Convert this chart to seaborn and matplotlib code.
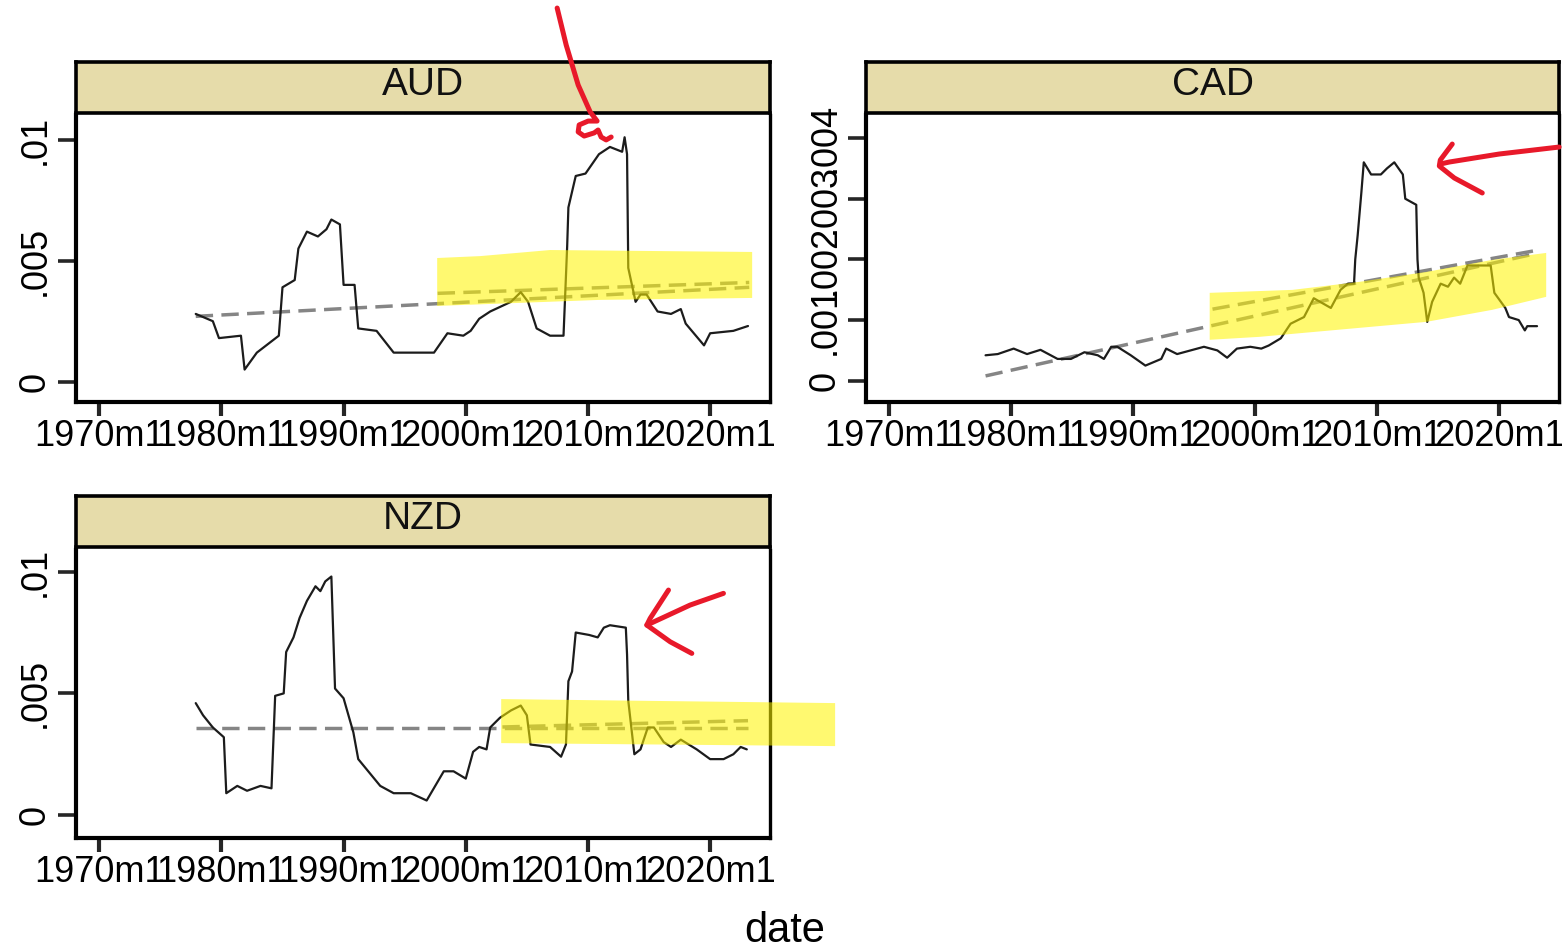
import pandas as pd
import matplotlib
matplotlib.use("Agg")
import matplotlib.pyplot as plt
import seaborn as sns

sns.set_theme(style="white")
plt.rcParams['font.family'] = ['Liberation Sans', 'DejaVu Sans']

# ---------------- data ----------------
aud_year = [1977.9, 1979.3, 1979.8, 1981.6, 1981.9, 1982.9, 1984.7, 1985.0, 1986.0, 1986.3,
            1987.0, 1987.9, 1988.6, 1989.0, 1989.7, 1990.0, 1990.9, 1991.2, 1992.7, 1994.1,
            1997.4, 1998.5, 1999.8, 2000.4, 2001.1, 2002.0, 2003.7, 2004.5, 2005.1, 2005.8,
            2006.9, 2008.0, 2008.3, 2008.4, 2009.0, 2009.8, 2010.9, 2011.8, 2012.8, 2013.0,
            2013.2, 2013.3, 2013.9, 2014.3, 2014.8, 2015.7, 2016.8, 2017.6, 2018.0, 2019.5,
            2020.0, 2021.9, 2023.1]
aud_value = [0.0028, 0.0025, 0.0018, 0.0019, 0.0005, 0.0012, 0.0019, 0.0039, 0.0042, 0.0055,
             0.0062, 0.0060, 0.0063, 0.0067, 0.0065, 0.0040, 0.0040, 0.0022, 0.0021, 0.0012,
             0.0012, 0.0020, 0.0019, 0.0021, 0.0026, 0.0029, 0.0033, 0.0037, 0.0033, 0.0022,
             0.0019, 0.0019, 0.0056, 0.0072, 0.0085, 0.0086, 0.0094, 0.0097, 0.0095, 0.0101,
             0.0094, 0.0047, 0.0033, 0.0036, 0.0036, 0.0029, 0.0028, 0.0030, 0.0024, 0.0015,
             0.0020, 0.0021, 0.0023]

cad_year = [1977.9, 1978.9, 1980.2, 1981.3, 1982.4, 1983.8, 1984.9, 1986.0, 1987.1, 1987.6,
            1988.2, 1988.7, 1989.8, 1991.0, 1992.3, 1992.7, 1993.6, 1994.7, 1995.8, 1996.9,
            1997.7, 1998.5, 1999.6, 2000.5, 2001.1, 2002.1, 2002.9, 2004.0, 2004.8, 2006.2,
            2007.0, 2007.6, 2008.1, 2008.2, 2008.4, 2008.7, 2008.9, 2009.5, 2010.3, 2010.8,
            2011.4, 2012.1, 2012.3, 2013.2, 2013.3, 2013.4, 2013.8, 2014.1, 2014.5, 2015.2,
            2015.8, 2016.3, 2016.8, 2017.4, 2018.5, 2019.3, 2019.6, 2020.5, 2020.8, 2021.6,
            2022.1, 2022.3, 2023.1]
cad_value = [0.00042, 0.00044, 0.00053, 0.00044, 0.00051, 0.00036, 0.00036, 0.00047, 0.00042, 0.00036,
             0.00056, 0.00056, 0.00042, 0.00025, 0.00036, 0.00053, 0.00044, 0.00050, 0.00056, 0.00050,
             0.00038, 0.00053, 0.00056, 0.00053, 0.00058, 0.00070, 0.00094, 0.00105, 0.00136, 0.00120,
             0.00150, 0.00160, 0.00160, 0.00200, 0.00240, 0.00310, 0.00360, 0.00340, 0.00340, 0.00350,
             0.00360, 0.00340, 0.00300, 0.00290, 0.00200, 0.00170, 0.00145, 0.00097, 0.00130, 0.00160,
             0.00155, 0.00170, 0.00160, 0.00190, 0.00190, 0.00190, 0.00145, 0.00120, 0.00105, 0.00100,
             0.00083, 0.00090, 0.00090]

nzd_year = [1977.9, 1978.5, 1979.3, 1980.2, 1980.4, 1981.3, 1982.1, 1983.2, 1984.1, 1984.4,
            1985.1, 1985.3, 1985.9, 1986.4, 1987.0, 1987.7, 1988.1, 1988.5, 1989.0, 1989.3,
            1990.0, 1990.8, 1991.2, 1993.0, 1994.1, 1995.5, 1996.8, 1998.2, 1999.0, 2000.0,
            2000.6, 2001.1, 2001.7, 2002.0, 2002.8, 2003.7, 2004.5, 2005.0, 2005.3, 2006.9,
            2007.8, 2008.2, 2008.4, 2008.7, 2009.0, 2010.1, 2010.8, 2011.3, 2011.8, 2013.1,
            2013.2, 2013.3, 2013.8, 2014.3, 2014.9, 2015.4, 2016.2, 2016.8, 2017.6, 2018.9,
            2020.0, 2021.1, 2021.9, 2022.5, 2023.0]
nzd_value = [0.0046, 0.0041, 0.0036, 0.0032, 0.0009, 0.0012, 0.0010, 0.0012, 0.0011, 0.0049,
             0.0050, 0.0067, 0.0073, 0.0081, 0.0088, 0.0094, 0.0092, 0.0096, 0.0098, 0.0052,
             0.0048, 0.0034, 0.0023, 0.0012, 0.0009, 0.0009, 0.0006, 0.0018, 0.0018, 0.0015,
             0.0026, 0.0028, 0.0027, 0.0036, 0.0040, 0.0043, 0.0045, 0.0041, 0.0029, 0.0028,
             0.0024, 0.0029, 0.0055, 0.0059, 0.0075, 0.0074, 0.0073, 0.0077, 0.0078, 0.0077,
             0.0066, 0.0047, 0.0025, 0.0027, 0.0036, 0.0036, 0.0030, 0.0028, 0.0031, 0.0027,
             0.0023, 0.0023, 0.0025, 0.0028, 0.0027]

# fitted trend lines (full sample and later sub-sample)
aud_fit_year, aud_fit_value = [1977.9, 2023.2], [0.0027, 0.0039]
aud_fit2_year, aud_fit2_value = [1997.7, 2023.2], [0.00365, 0.0041]
cad_fit_year, cad_fit_value = [1977.9, 2023.1], [0.00008, 0.00210]
cad_fit2_year, cad_fit2_value = [1996.5, 2023.1], [0.00118, 0.00215]
nzd_fit_year, nzd_fit_value = [1977.9, 2023.1], [0.00357, 0.00357]
nzd_fit2_year, nzd_fit2_value = [2003.0, 2023.1], [0.00362, 0.00388]

xtick_years = [1970, 1980, 1990, 2000, 2010, 2020]
xtick_labels = ["1970m1", "1980m1", "1990m1", "2000m1", "2010m1", "2020m1"]
ytick_small = [0, 0.005, 0.01]
ytick_small_labels = ["0", ".005", ".01"]
ytick_cad = [0, 0.001, 0.002, 0.003, 0.004]
ytick_cad_labels = ["0", ".001", ".002", ".003", ".004"]

# highlighter marks and hand-drawn arrows (year, value)
aud_hl_x = [1997.66, 2001.2, 2006.9, 2023.44, 2023.44, 2011.0, 1997.66]
aud_hl_y = [0.00511, 0.00519, 0.00544, 0.00536, 0.00346, 0.00338, 0.00313]
cad_hl_x = [1996.27, 2003.06, 2008.54, 2014.03, 2019.43, 2023.85,
            2023.85, 2019.43, 2014.03, 2008.54, 2000.36, 1996.27]
cad_hl_y = [0.001449, 0.001498, 0.001630, 0.001794, 0.001992, 0.002107,
            0.001383, 0.001169, 0.000971, 0.000872, 0.000724, 0.000675]
nzd_hl_x = [2002.9, 2030.23, 2030.23, 2002.9]
nzd_hl_y = [0.004766, 0.004601, 0.002835, 0.002958]

aud_pen_x = [2007.48, 2008.22, 2009.20, 2010.18, 2010.75, 2010.02, 2009.28, 2009.20,
             2009.69, 2010.51, 2010.83, 2011.08, 2011.49, 2011.90]
aud_pen_y = [0.01544, 0.01391, 0.01226, 0.01115, 0.01077, 0.01077, 0.01061, 0.01032,
             0.01015, 0.01028, 0.01040, 0.01011, 0.00999, 0.01011]
cad_shaft_x = [2024.91, 2020.0, 2015.91, 2015.17]
cad_shaft_y = [0.003852, 0.003737, 0.003605, 0.003572]
cad_head_x = [2016.15, 2015.17, 2015.09, 2016.32, 2018.61]
cad_head_y = [0.003901, 0.003638, 0.003539, 0.003342, 0.003095]
nzd_shaft_x = [2021.09, 2018.36, 2014.82]
nzd_shaft_y = [0.009109, 0.008628, 0.007806]
nzd_head_x = [2016.59, 2015.09, 2014.82, 2016.73, 2018.50]
nzd_head_y = [0.009244, 0.008081, 0.007806, 0.00712, 0.006643]

# ---------------- figure ----------------
W, H = 1562, 952
fig = plt.figure(figsize=(W / 100, H / 100), dpi=100)
fig.patch.set_facecolor("white")


def rect(l, t, r, b):
    return [l / W, 1 - b / H, (r - l) / W, (b - t) / H]


STRIP = "#E6DCAA"
LINE = "#1c1c1c"
DASH = "#858585"
HL = "#FFF500"
PEN = "#E8192A"


def panel(title, plot_box, head_box, year, value, fits, yticks, ylabels, ylim,
          hl, pens):
    hx = fig.add_axes(rect(*head_box))
    hx.set_facecolor(STRIP)
    hx.set_xticks([])
    hx.set_yticks([])
    for s in hx.spines.values():
        s.set_color("black")
        s.set_linewidth(2.6)
    hx.text(0.5, 0.55, title, ha="center", va="center", fontsize=28, color="#111111",
            transform=hx.transAxes)
    hx.set_zorder(1)

    ax = fig.add_axes(rect(*plot_box))
    ax.set_zorder(3)
    ax.patch.set_facecolor("white")
    df = pd.DataFrame({"date": year, "value": value})
    sns.lineplot(data=df, x="date", y="value", ax=ax, color=LINE, linewidth=1.6,
                 zorder=3)
    for fy, fv in fits:
        fdf = pd.DataFrame({"date": fy, "value": fv})
        sns.lineplot(data=fdf, x="date", y="value", ax=ax, color=DASH,
                     linewidth=2.5, zorder=2)
        ax.lines[-1].set_dashes((5.0, 2.4))

    hx_, hy_ = hl
    poly = ax.fill(hx_, hy_, color=HL, alpha=0.56, lw=0, zorder=6)
    for p in poly:
        p.set_clip_on(False)
    for px_, py_ in pens:
        ax.plot(px_, py_, color=PEN, lw=3.6, solid_capstyle="round",
                solid_joinstyle="round", clip_on=False, zorder=8)

    ax.set_xlim(1968.1, 2024.9)
    ax.set_ylim(*ylim)
    ax.set_xticks(xtick_years)
    ax.set_xticklabels(xtick_labels, fontsize=26, color="black")
    ax.set_yticks(yticks)
    ax.set_yticklabels(ylabels, fontsize=26, color="black", rotation=90,
                       va="center")
    ax.tick_params(axis="x", direction="out", length=10, width=3, pad=2,
                   bottom=True)
    ax.tick_params(axis="y", direction="out", length=13, width=2.6, pad=4,
                   left=True)
    ax.set_xlabel("")
    ax.set_ylabel("")
    for side, s in ax.spines.items():
        s.set_color("black")
        s.set_linewidth(3.0 if side in ("left", "bottom") else 2.4)
    ax.spines["top"].set_visible(False)
    return ax


panel("AUD", (76, 115, 770, 402), (76, 62, 770, 113), aud_year, aud_value,
      [(aud_fit_year, aud_fit_value), (aud_fit2_year, aud_fit2_value)],
      ytick_small, ytick_small_labels, (-0.00084, 0.01102),
      (aud_hl_x, aud_hl_y), [(aud_pen_x, aud_pen_y)])

panel("CAD", (866, 115, 1559, 402), (866, 62, 1559, 113), cad_year, cad_value,
      [(cad_fit_year, cad_fit_value), (cad_fit2_year, cad_fit2_value)],
      ytick_cad, ytick_cad_labels, (-0.00035, 0.00438),
      (cad_hl_x, cad_hl_y), [(cad_shaft_x, cad_shaft_y), (cad_head_x, cad_head_y)])

panel("NZD", (76, 550, 770, 838), (76, 496, 770, 547), nzd_year, nzd_value,
      [(nzd_fit_year, nzd_fit_value), (nzd_fit2_year, nzd_fit2_value)],
      ytick_small, ytick_small_labels, (-0.00094, 0.01089),
      (nzd_hl_x, nzd_hl_y), [(nzd_shaft_x, nzd_shaft_y), (nzd_head_x, nzd_head_y)])

fig.text(785 / W, 1 - 931 / H, "date", ha="center", va="center", fontsize=30,
         color="black")

fig.savefig("out.png", dpi=100, facecolor="white")
